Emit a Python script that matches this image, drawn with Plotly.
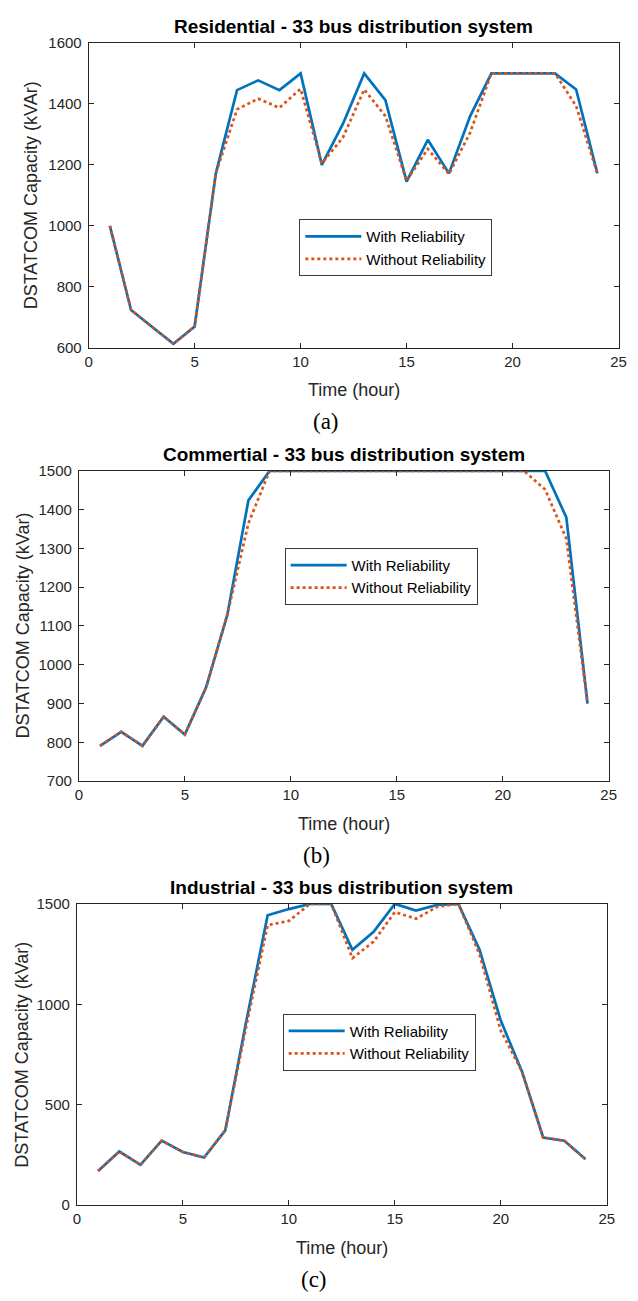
import plotly.graph_objects as go

# ---------------- data ----------------
hours = list(range(1, 25))

res_with = [1000, 724, 668, 613, 670, 1172, 1445, 1477, 1445, 1500, 1200, 1335,
            1500, 1412, 1145, 1282, 1172, 1360, 1500, 1500, 1500, 1500, 1447, 1172]
res_without = [1000, 724, 668, 613, 670, 1172, 1382, 1417, 1387, 1449, 1205, 1290,
               1447, 1360, 1148, 1252, 1170, 1306, 1500, 1500, 1500, 1500, 1393, 1172]

com_with = [791, 827, 791, 866, 820, 941, 1128, 1424, 1500, 1500, 1500, 1500,
            1500, 1500, 1500, 1500, 1500, 1500, 1500, 1500, 1500, 1500, 1380, 900]
com_without = [791, 827, 791, 866, 820, 941, 1128, 1365, 1500, 1500, 1500, 1500,
               1500, 1500, 1500, 1500, 1500, 1500, 1500, 1500, 1500, 1452, 1325, 900]

ind_with = [170, 267, 201, 321, 265, 237, 372, 920, 1443, 1474, 1500, 1500,
            1271, 1361, 1500, 1467, 1495, 1500, 1271, 919, 665, 337, 321, 229]
ind_without = [170, 267, 201, 321, 265, 237, 372, 895, 1394, 1415, 1500, 1500,
               1230, 1312, 1459, 1426, 1485, 1500, 1248, 869, 665, 337, 321, 229]

titles = ["Residential - 33 bus distribution system",
          "Commertial - 33 bus distribution system",
          "Industrial - 33 bus distribution system"]
ytitles = ["DSTATCOM Capacity (kVAr)", "DSTATCOM Capacity (kVar)", "DSTATCOM Capacity (kVar)"]
sublabels = ["(a)", "(b)", "(c)"]
series_names = ["With Reliability", "Without Reliability"]
x_ticks = [0, 5, 10, 15, 20, 25]
y_ticks = [[600, 800, 1000, 1200, 1400, 1600],
           [700, 800, 900, 1000, 1100, 1200, 1300, 1400, 1500],
           [0, 500, 1000, 1500]]
data = [(res_with, res_without), (com_with, com_without), (ind_with, ind_without)]

# ---------------- layout geometry (pixels) ----------------
W, H = 638, 1301
def fx(p): return p / W
def fy(p): return 1 - p / H

panels = [
    dict(x0=86.3, x1=626.3, y0=34.3, y1=343.3, ytx=27.5, leg=(301, 213)),
    dict(x0=76.3, x1=616.3, y0=468.0, y1=782.3, ytx=19.0, leg=(286, 546)),
    dict(x0=74.3, x1=614.3, y0=906.7, y1=1212.0, ytx=17.5, leg=(284, 1018)),
]

SANS = "Arial, Liberation Sans, Helvetica, sans-serif"
SERIF = "Times New Roman, Liberation Serif, serif"
AX = "#262626"
BLUE = "#0072BD"
ORANGE = "#D95319"

fig = go.Figure()
annotations = []
layout = dict(
    width=W, height=H, margin=dict(l=0, r=0, t=0, b=0),
    paper_bgcolor="white", plot_bgcolor="white",
    font=dict(family=SANS, color=AX),
)

for i, p in enumerate(panels):
    n = "" if i == 0 else str(i + 1)
    xa, ya = "x" + n, "y" + n
    leg = "legend" + n
    yw, ywo = data[i]
    fig.add_trace(go.Scatter(x=hours, y=yw, mode="lines", name=series_names[0],
                             line=dict(color=BLUE, width=2.7), xaxis=xa, yaxis=ya,
                             legend=leg))
    fig.add_trace(go.Scatter(x=hours, y=ywo, mode="lines", name=series_names[1],
                             line=dict(color=ORANGE, width=2.7, dash="dot"),
                             xaxis=xa, yaxis=ya, legend=leg))
    yr = [y_ticks[i][0], y_ticks[i][-1]]
    common = dict(showgrid=False, zeroline=False, showline=True, linecolor=AX,
                  linewidth=1, mirror="ticks", ticks="inside", ticklen=5,
                  tickcolor=AX, tickwidth=1, tickfont=dict(size=15, color=AX, family=SANS))
    layout["xaxis" + n] = dict(domain=[fx(p["x0"]), fx(p["x1"])], range=[0, 25],
                               tickvals=x_ticks, anchor=ya, **common)
    layout["yaxis" + n] = dict(domain=[fy(p["y1"]), fy(p["y0"])], range=yr,
                               tickvals=y_ticks[i], anchor=xa,
                               ticklabelstandoff=3, **common)
    layout[leg] = dict(x=fx(p["leg"][0]), y=fy(p["leg"][1]), xanchor="left", yanchor="top",
                       bgcolor="white", bordercolor="#3a3a3a", borderwidth=1,
                       font=dict(size=15, color="#000000", family=SANS),
                       itemwidth=56, tracegroupgap=0)
    cx = (p["x0"] + p["x1"]) / 2
    annotations += [
        dict(text="<b>" + titles[i] + "</b>", x=fx(cx), y=fy(p["y0"] - 17),
             xref="paper", yref="paper", showarrow=False, xanchor="center",
             yanchor="middle", font=dict(size=19, color="#000000", family=SANS)),
        dict(text=ytitles[i], x=fx(p["ytx"]), y=fy((p["y0"] + p["y1"]) / 2),
             xref="paper", yref="paper", showarrow=False, textangle=-90,
             xanchor="center", yanchor="middle", font=dict(size=18, color=AX, family=SANS)),
        dict(text="Time (hour)", x=fx(cx), y=fy(p["y1"] + 43), xref="paper", yref="paper",
             showarrow=False, xanchor="center", yanchor="middle",
             font=dict(size=18, color=AX, family=SANS)),
        dict(text=sublabels[i], x=fx(cx - 28), y=fy(p["y1"] + 75), xref="paper", yref="paper",
             showarrow=False, xanchor="center", yanchor="middle",
             font=dict(size=23, color="#000000", family=SERIF)),
    ]

layout["annotations"] = annotations
fig.update_layout(**layout)
fig.write_html("out.html")
